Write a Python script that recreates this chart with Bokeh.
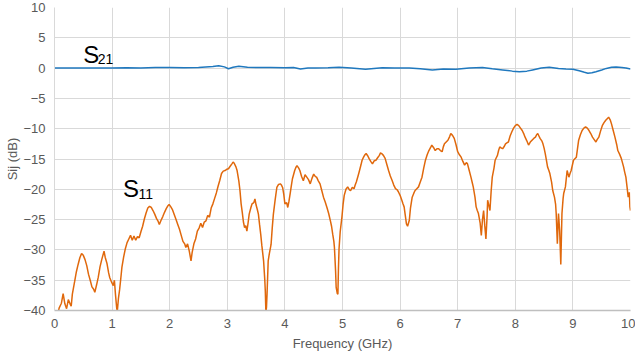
from bokeh.plotting import figure
from bokeh.models import Label, FixedTicker, Range1d
from bokeh.embed import file_html
from bokeh.resources import INLINE

# Measured S-parameters of the test fixture, 0-10 GHz
s11_freq = [
    0.05, 0.08, 0.12, 0.15, 0.18, 0.21, 0.24, 0.27, 0.29, 0.31, 0.35, 0.38, 0.41, 0.44, 0.47,
    0.50, 0.53, 0.56, 0.59, 0.62, 0.65, 0.68, 0.70, 0.73, 0.76, 0.79, 0.82, 0.84, 0.86, 0.88,
    0.91, 0.94, 0.96, 0.99, 1.02, 1.04, 1.06, 1.08, 1.09, 1.11, 1.13, 1.15, 1.17, 1.20, 1.23,
    1.26, 1.29, 1.32, 1.35, 1.38, 1.41, 1.44, 1.47, 1.50, 1.53, 1.56, 1.59, 1.62, 1.65, 1.68,
    1.71, 1.74, 1.77, 1.80, 1.82, 1.85, 1.88, 1.91, 1.94, 1.97, 1.99, 2.02, 2.05, 2.08, 2.11,
    2.14, 2.17, 2.20, 2.23, 2.26, 2.28, 2.31, 2.34, 2.37, 2.39, 2.42, 2.45, 2.48, 2.51, 2.54,
    2.57, 2.60, 2.63, 2.66, 2.69, 2.72, 2.75, 2.78, 2.81, 2.84, 2.87, 2.90, 2.93, 2.96, 2.99,
    3.02, 3.05, 3.08, 3.10, 3.12, 3.15, 3.17, 3.20, 3.22, 3.24, 3.26, 3.28, 3.30, 3.32, 3.34,
    3.36, 3.38, 3.41, 3.43, 3.46, 3.48, 3.50, 3.52, 3.54, 3.56, 3.58, 3.60, 3.63, 3.65, 3.66,
    3.67, 3.68, 3.69, 3.71, 3.73, 3.76, 3.78, 3.80, 3.83, 3.86, 3.89, 3.92, 3.94, 3.96, 3.98,
    4.00, 4.03, 4.05, 4.07, 4.09, 4.11, 4.13, 4.15, 4.17, 4.19, 4.21, 4.24, 4.26, 4.29, 4.32,
    4.35, 4.38, 4.41, 4.44, 4.47, 4.50, 4.53, 4.55, 4.58, 4.61, 4.64, 4.67, 4.70, 4.73, 4.76,
    4.79, 4.81, 4.83, 4.85, 4.86, 4.88, 4.89, 4.91, 4.92, 4.93, 4.94, 4.96, 4.99, 5.01, 5.03,
    5.06, 5.09, 5.12, 5.14, 5.17, 5.20, 5.22, 5.24, 5.27, 5.29, 5.32, 5.34, 5.37, 5.39, 5.41,
    5.44, 5.46, 5.49, 5.52, 5.55, 5.58, 5.61, 5.64, 5.66, 5.68, 5.71, 5.74, 5.77, 5.80, 5.83,
    5.86, 5.89, 5.92, 5.95, 5.97, 6.00, 6.03, 6.05, 6.07, 6.09, 6.11, 6.13, 6.16, 6.18, 6.21,
    6.24, 6.26, 6.29, 6.32, 6.35, 6.38, 6.41, 6.44, 6.47, 6.50, 6.53, 6.55, 6.58, 6.61, 6.64,
    6.67, 6.70, 6.73, 6.75, 6.77, 6.80, 6.83, 6.86, 6.88, 6.91, 6.94, 6.97, 7.00, 7.03, 7.06,
    7.09, 7.12, 7.15, 7.17, 7.20, 7.23, 7.25, 7.27, 7.30, 7.32, 7.34, 7.36, 7.39, 7.41, 7.43,
    7.45, 7.47, 7.49, 7.51, 7.52, 7.54, 7.56, 7.58, 7.60, 7.63, 7.65, 7.67, 7.69, 7.71, 7.73,
    7.76, 7.78, 7.81, 7.83, 7.86, 7.88, 7.91, 7.94, 7.97, 8.00, 8.03, 8.06, 8.09, 8.12, 8.15,
    8.17, 8.20, 8.23, 8.26, 8.29, 8.32, 8.35, 8.37, 8.39, 8.41, 8.43, 8.46, 8.48, 8.50, 8.52,
    8.54, 8.56, 8.58, 8.60, 8.63, 8.65, 8.68, 8.70, 8.71, 8.73, 8.74, 8.75, 8.77, 8.79, 8.81,
    8.83, 8.84, 8.87, 8.90, 8.93, 8.95, 8.97, 9.01, 9.03, 9.06, 9.08, 9.10, 9.13, 9.16, 9.19,
    9.22, 9.25, 9.28, 9.31, 9.34, 9.37, 9.40, 9.42, 9.45, 9.48, 9.51, 9.54, 9.57, 9.60, 9.62,
    9.65, 9.67, 9.70, 9.73, 9.76, 9.78, 9.81, 9.84, 9.86, 9.88, 9.90, 9.92, 9.94, 9.96, 9.98,
    9.99, 10.00,
]
s11_db = [
    -41.0, -39.6, -38.8, -37.2, -38.9, -39.7, -38.2, -38.9, -39.3, -37.3, -35.2, -33.6, -32.4, -31.3, -30.6,
    -30.9, -31.6, -32.6, -34.0, -35.0, -36.1, -36.5, -37.0, -35.8, -34.5, -32.8, -31.6, -30.9, -30.2, -31.2,
    -32.2, -33.8, -34.6, -35.3, -35.9, -35.0, -37.5, -39.6, -40.2, -38.0, -36.6, -34.8, -32.9, -31.2, -29.8,
    -28.8, -28.2, -27.6, -28.4, -27.7, -28.4, -27.8, -28.0, -27.0, -26.1, -24.9, -23.9, -23.1, -22.8, -23.0,
    -23.5, -24.1, -24.8, -25.3, -25.8, -25.1, -24.5, -23.8, -23.2, -22.7, -22.5, -22.9, -23.4, -24.2, -25.0,
    -25.8, -26.6, -27.6, -28.6, -29.0, -29.6, -29.0, -30.2, -31.8, -30.4, -29.0, -28.2, -26.9, -26.4, -25.6,
    -26.3, -25.4, -25.2, -24.3, -24.6, -23.1, -22.4, -21.5, -20.6, -19.5, -18.5, -17.4, -17.0, -16.9, -16.7,
    -16.6, -16.2, -15.8, -15.5, -15.7, -16.3, -16.9, -18.6, -20.2, -22.4, -23.8, -25.4, -26.3, -26.0, -26.9,
    -25.6, -24.1, -23.0, -22.4, -22.2, -21.6, -22.6, -23.3, -24.1, -25.8, -27.4, -29.3, -31.8, -34.8, -36.8,
    -40.3, -39.5, -37.3, -31.8, -30.6, -29.1, -26.4, -24.1, -21.8, -19.7, -19.2, -19.1, -19.3, -19.7, -20.8,
    -22.4, -22.2, -23.0, -22.0, -20.8, -19.5, -18.3, -17.6, -16.9, -16.4, -16.1, -16.5, -16.9, -17.9, -18.6,
    -17.6, -18.0, -18.4, -19.1, -18.2, -17.5, -17.9, -18.0, -18.6, -19.1, -20.2, -21.3, -22.1, -23.0, -24.0,
    -25.2, -26.1, -27.4, -28.6, -29.6, -33.5, -36.2, -37.2, -37.3, -33.0, -29.8, -27.0, -24.6, -22.5, -21.0,
    -20.0, -19.6, -20.1, -20.2, -19.7, -19.9, -19.3, -18.8, -17.8, -17.1, -16.0, -15.2, -14.6, -14.3, -14.1,
    -14.5, -14.9, -15.4, -15.8, -15.3, -15.2, -14.8, -14.4, -14.0, -14.1, -14.4, -14.9, -15.9, -16.9, -17.8,
    -18.5, -19.3, -19.9, -20.1, -20.4, -21.0, -21.8, -22.4, -22.9, -24.3, -25.7, -26.1, -25.1, -23.1, -21.3,
    -20.6, -20.2, -19.9, -19.6, -18.8, -18.0, -16.5, -15.2, -14.3, -13.6, -13.1, -12.7, -13.1, -13.6, -13.3,
    -13.3, -13.6, -13.8, -13.0, -12.5, -12.2, -11.9, -11.3, -10.8, -11.1, -11.6, -12.6, -13.8, -14.3, -14.7,
    -15.4, -16.0, -15.6, -15.8, -16.9, -18.0, -18.8, -19.6, -21.3, -22.9, -23.5, -24.0, -25.6, -27.6, -25.0,
    -23.5, -26.0, -28.2, -24.5, -21.8, -22.6, -23.5, -20.4, -18.0, -16.5, -15.2, -14.8, -14.4, -13.6, -13.0,
    -13.2, -13.3, -12.9, -12.5, -12.3, -12.2, -11.2, -10.5, -9.9, -9.5, -9.3, -9.5, -9.9, -10.3, -10.9,
    -11.4, -12.0, -12.7, -12.2, -11.9, -11.6, -11.4, -11.0, -10.8, -11.2, -11.6, -12.0, -12.5, -13.2, -14.1,
    -15.2, -16.3, -16.8, -17.4, -18.8, -20.2, -21.3, -22.5, -24.0, -29.0, -26.5, -24.0, -26.8, -32.4, -24.0,
    -21.5, -20.7, -19.6, -16.9, -18.0, -17.4, -16.9, -15.2, -15.0, -14.7, -13.3, -11.9, -11.0, -10.3, -9.9,
    -9.7, -9.9, -10.3, -10.8, -11.4, -11.8, -12.2, -11.8, -11.4, -10.4, -9.5, -9.0, -8.6, -8.3, -8.1,
    -8.6, -9.2, -10.3, -11.4, -12.6, -13.6, -14.2, -14.9, -15.6, -16.3, -17.2, -18.0, -19.6, -21.3, -20.5,
    -22.9, -23.5,
]

s21_freq = [
    0.00, 0.25, 0.50, 0.75, 1.00, 1.25, 1.50, 1.75, 2.00, 2.25, 2.50, 2.75, 2.85, 2.95, 3.02,
    3.10, 3.20, 3.35, 3.50, 3.75, 4.00, 4.15, 4.27, 4.40, 4.53, 4.75, 4.94, 5.15, 5.40, 5.69,
    5.90, 6.16, 6.35, 6.56, 6.75, 6.97, 7.20, 7.43, 7.60, 7.78, 7.95, 8.07, 8.20, 8.30, 8.45,
    8.59, 8.75, 8.88, 9.00, 9.11, 9.20, 9.26, 9.33, 9.40, 9.50, 9.58, 9.67, 9.75, 9.85, 9.92,
    10.00,
]
s21_db = [
    0.00, 0.00, 0.00, 0.02, 0.03, 0.05, 0.00, 0.08, 0.10, 0.05, 0.10, 0.25, 0.40, 0.20, -0.10,
    0.15, 0.30, 0.15, 0.10, 0.10, 0.05, 0.10, -0.15, 0.00, 0.00, 0.05, 0.15, 0.00, -0.20, 0.05,
    0.00, 0.00, -0.10, -0.30, -0.15, -0.20, 0.00, 0.10, -0.10, -0.30, -0.50, -0.60, -0.50, -0.30, 0.00,
    0.15, -0.05, -0.15, -0.20, -0.45, -0.70, -0.85, -0.75, -0.60, -0.30, -0.05, 0.15, 0.20, 0.10, 0.00,
    -0.15,
]

x_ticks = [0, 1, 2, 3, 4, 5, 6, 7, 8, 9, 10]
y_ticks = [-40, -35, -30, -25, -20, -15, -10, -5, 0, 5, 10]

FONT = "Liberation Sans"
GRID = "#D9D9D9"
TICK_TEXT = "#595959"

p = figure(
    width=635, height=360,
    output_backend="svg", toolbar_location=None,
    x_range=Range1d(0, 10), y_range=Range1d(-40, 10),
    min_border_left=54, min_border_right=5, min_border_top=7, min_border_bottom=50,
)
p.outline_line_color = None
p.background_fill_color = "white"
p.border_fill_color = "white"

p.xaxis.ticker = FixedTicker(ticks=x_ticks)
p.yaxis.ticker = FixedTicker(ticks=y_ticks)
for ax in (p.xaxis[0], p.yaxis[0]):
    ax.major_tick_line_color = None
    ax.minor_tick_line_color = None
    ax.major_tick_out = 0
    ax.major_tick_in = 0
    ax.minor_tick_out = 0
    ax.minor_tick_in = 0
    ax.major_label_text_font = FONT
    ax.major_label_text_font_size = "13px"
    ax.major_label_text_color = TICK_TEXT
    ax.axis_label_text_font = FONT
    ax.axis_label_text_font_size = "13px"
    ax.axis_label_text_font_style = "normal"
    ax.axis_label_text_color = TICK_TEXT

p.xaxis.axis_label = "Frequency (GHz)"
p.yaxis.axis_label = "Sij (dB)"
p.xaxis.axis_line_color = "#BFBFBF"
p.xaxis.axis_line_width = 1.5
p.yaxis.axis_line_color = GRID
p.xaxis.major_label_standoff = 8
p.xaxis.axis_label_standoff = 5
p.yaxis.major_label_standoff = 9
p.yaxis.axis_label_standoff = 0

p.xgrid.grid_line_color = GRID
p.ygrid.grid_line_color = GRID
p.xgrid.grid_line_width = 1
p.ygrid.grid_line_width = 1

p.line(s21_freq, s21_db, line_color="#1F78BE", line_width=1.5)
p.line(s11_freq, s11_db, line_color="#E0680C", line_width=1.5)

# Trace labels: "S" with a smaller subscript index
for x_s, y_s, x_sub, y_sub, sub in [
    (0.50, 2.26, 0.75, 1.43, "21"),
    (1.19, -19.8, 1.46, -20.8, "11"),
]:
    p.add_layout(Label(x=x_s, y=y_s, text="S", text_font=FONT, text_font_size="24px",
                       text_color="black", text_baseline="alphabetic"))
    p.add_layout(Label(x=x_sub, y=y_sub, text=sub, text_font=FONT, text_font_size="14px",
                       text_color="black", text_baseline="alphabetic"))

open("out.html", "w").write(file_html(p, INLINE))
